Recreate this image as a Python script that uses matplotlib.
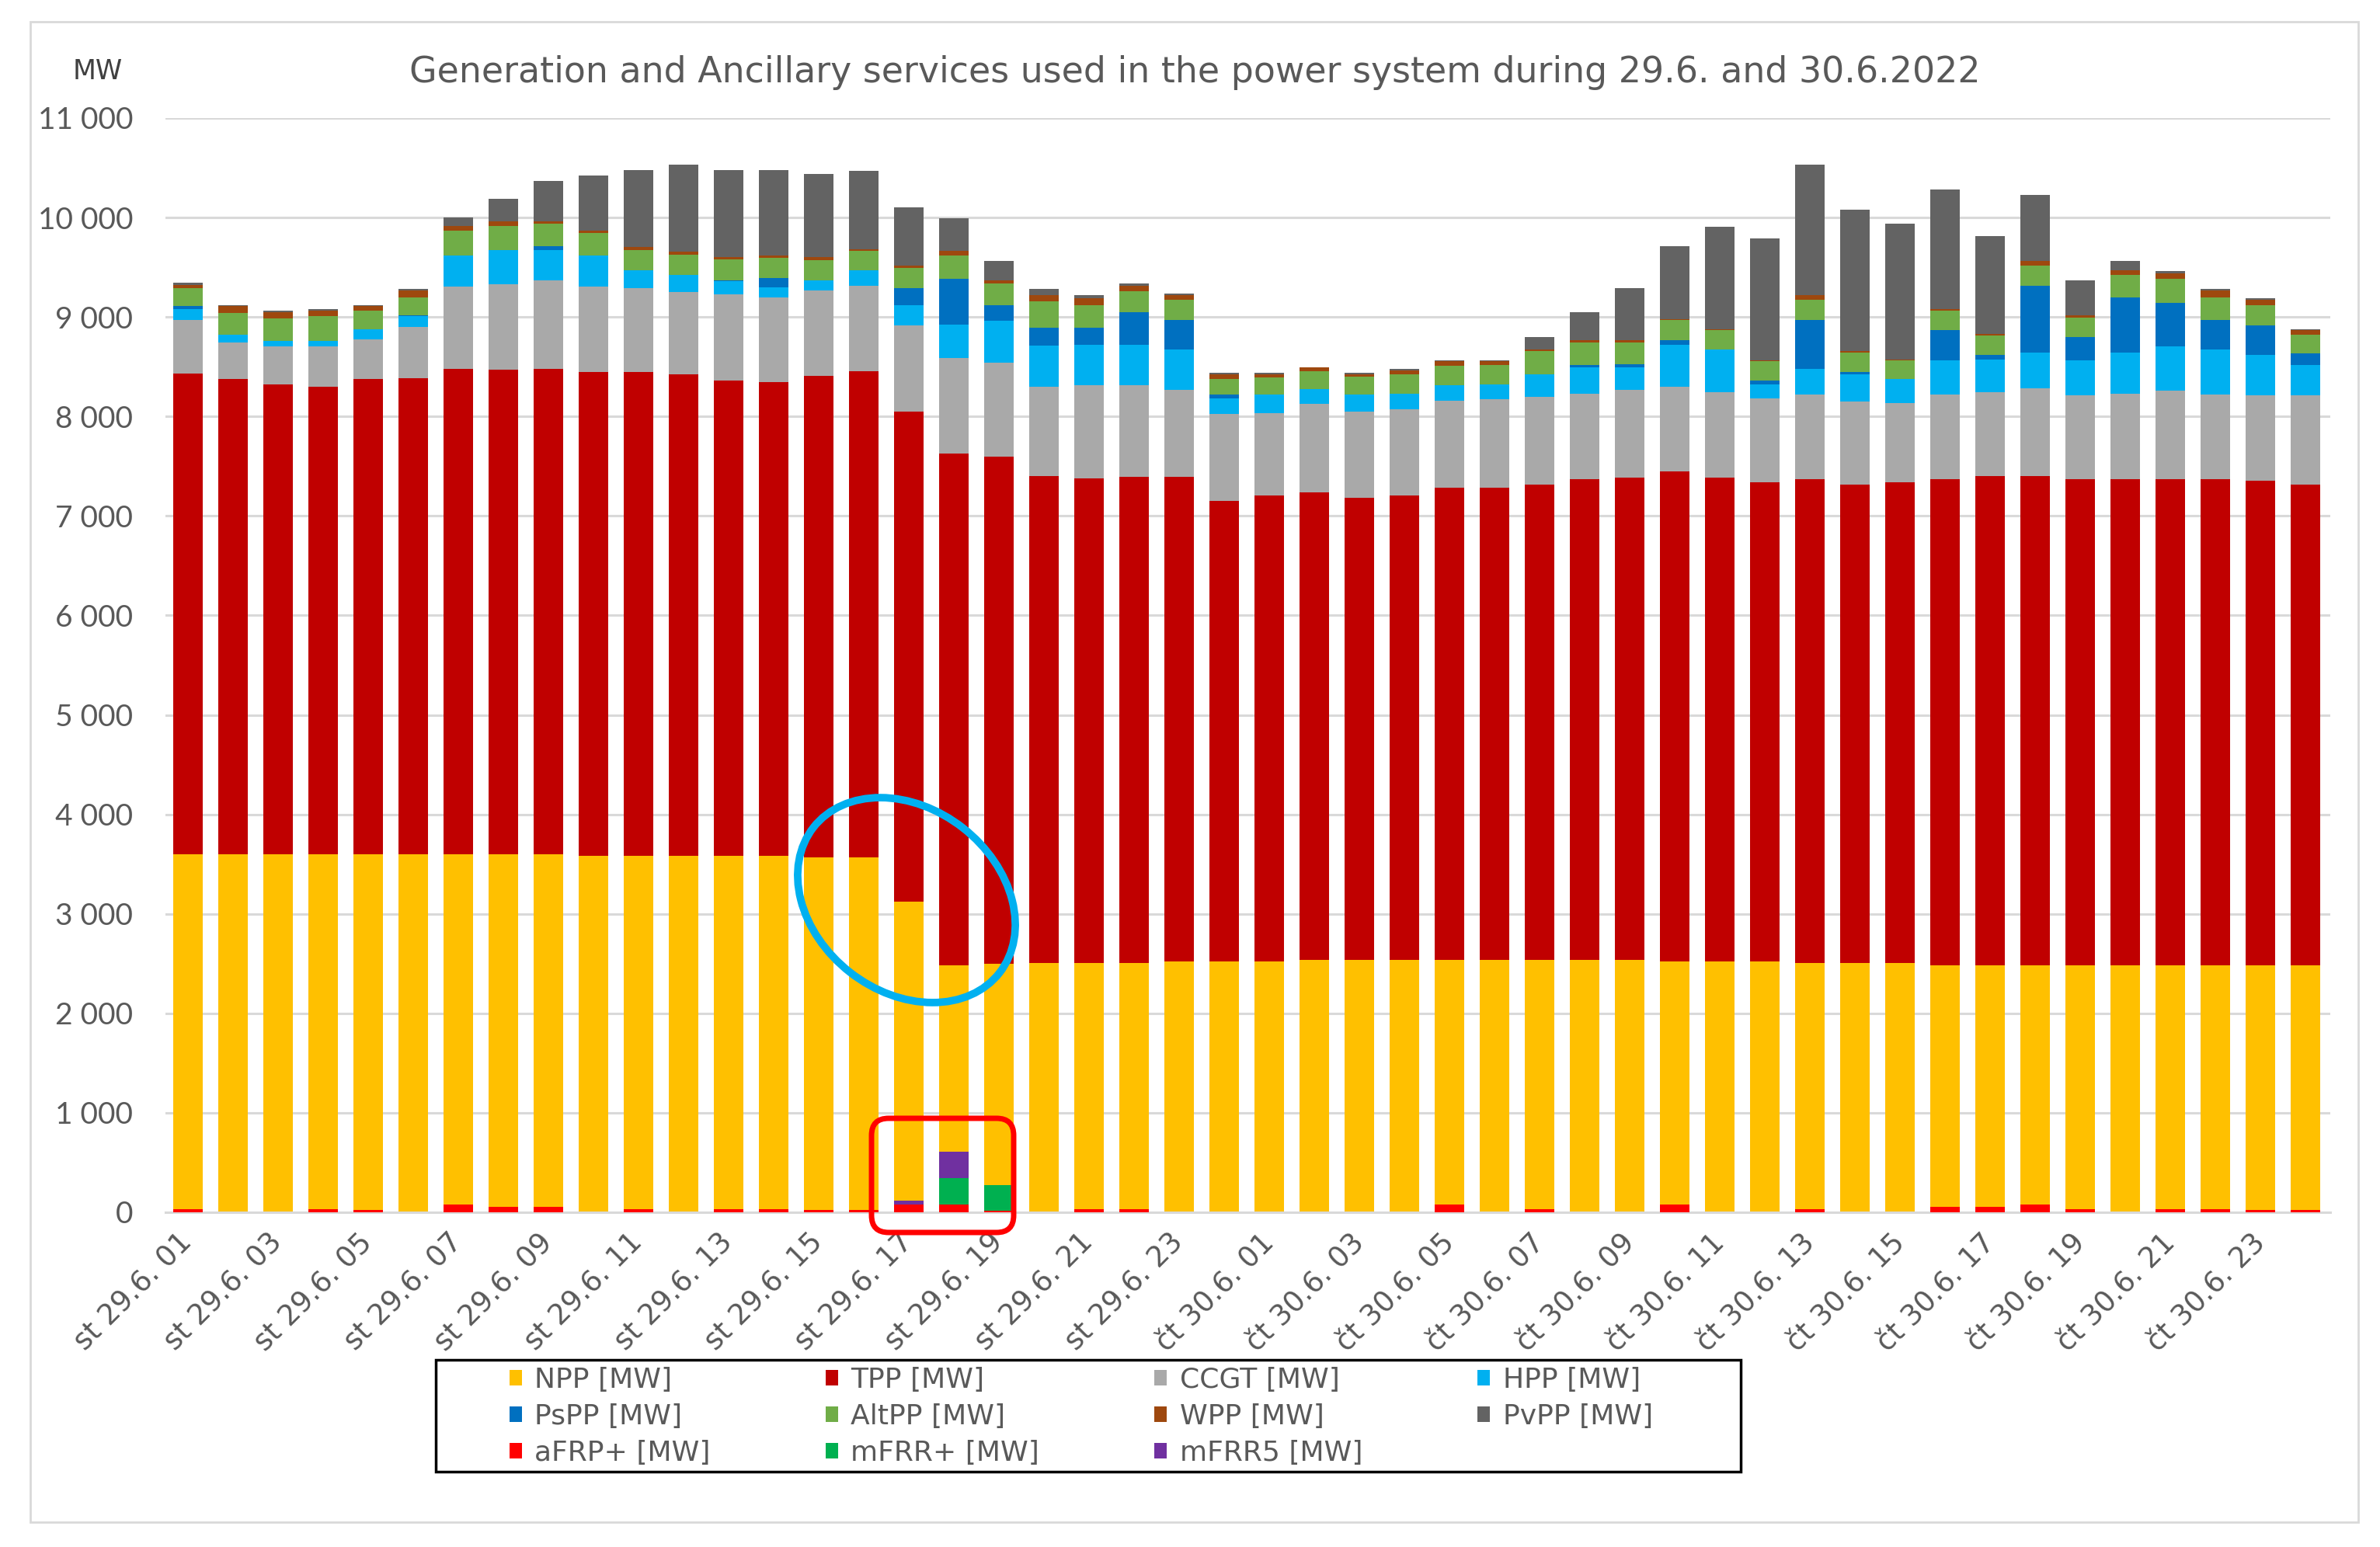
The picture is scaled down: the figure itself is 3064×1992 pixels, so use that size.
import matplotlib
matplotlib.use("Agg")
from matplotlib import pyplot as plt
from matplotlib.patches import Ellipse, FancyBboxPatch, Rectangle
import numpy as np

plt.rcParams['font.family'] = ['Lato', 'DejaVu Sans']
wide = ['DejaVu Sans']

hours = ["01", "02", "03", "04", "05", "06", "07", "08", "09", "10", "11", "12",
         "13", "14", "15", "16", "17", "18", "19", "20", "21", "22", "23", "24"]
categories = ["st 29.6. " + h for h in hours] + ["čt 30.6. " + h for h in hours]

# generation [MW], one value per hour
npp = [3600, 3600, 3600, 3600, 3600, 3600, 3600, 3600, 3600, 3585, 3585, 3580,
       3580, 3580, 3565, 3565, 3120, 2480, 2500, 2505, 2505, 2505, 2520, 2520,
       2520, 2540, 2540, 2540, 2540, 2540, 2540, 2540, 2540, 2520, 2520, 2520,
       2505, 2505, 2505, 2485, 2480, 2480, 2480, 2480, 2480, 2480, 2480, 2480]
tpp = [4830, 4778, 4725, 4701, 4778, 4788, 4876, 4872, 4876, 4863, 4863, 4843,
       4780, 4763, 4845, 4892, 4926, 5147, 5097, 4897, 4876, 4891, 4876, 4633,
       4687, 4697, 4643, 4667, 4742, 4742, 4772, 4832, 4847, 4927, 4867, 4822,
       4867, 4807, 4837, 4887, 4922, 4922, 4892, 4892, 4892, 4892, 4877, 4838]
ccgt = [542, 367, 378, 402, 395, 514, 828, 860, 891, 856, 839, 829,
        864, 856, 857, 858, 870, 959, 944, 899, 935, 920, 875, 872,
        823, 890, 862, 869, 875, 890, 884, 854, 878, 854, 854, 839,
        848, 839, 794, 848, 839, 884, 839, 854, 884, 845, 854, 893]
hpp = [105, 77, 59, 59, 101, 105, 315, 339, 304, 315, 185, 168,
       133, 98, 99, 156, 204, 336, 420, 414, 405, 405, 399, 156,
       190, 150, 175, 150, 159, 150, 231, 270, 231, 420, 429, 141,
       255, 276, 240, 345, 330, 360, 354, 420, 450, 453, 405, 306]
pspp = [35, 0, 0, 0, 0, 10, 0, 0, 39, 0, 0, 0,
        10, 95, 0, 0, 171, 459, 156, 180, 174, 330, 297, 39,
        0, 0, 0, 0, 0, 0, 0, 24, 30, 45, 0, 39,
        492, 18, 0, 300, 45, 669, 231, 549, 435, 297, 300, 114]
altpp = [175, 220, 221, 245, 192, 182, 245, 245, 231, 227, 199, 206,
         210, 199, 204, 195, 204, 240, 219, 261, 225, 210, 204, 156,
         171, 174, 177, 195, 195, 195, 234, 225, 219, 201, 201, 195,
         204, 195, 189, 201, 201, 201, 195, 225, 240, 228, 204, 189]
wpp = [35, 70, 69, 59, 46, 70, 52, 46, 17, 18, 35, 28,
       24, 28, 31, 14, 21, 45, 30, 66, 66, 54, 45, 45,
       30, 39, 28, 45, 45, 39, 15, 21, 21, 13, 9, 9,
       45, 21, 10, 15, 9, 45, 24, 51, 54, 72, 51, 45]
pvpp = [24, 7, 14, 11, 10, 14, 81, 223, 406, 559, 770, 881,
        875, 857, 839, 789, 584, 330, 195, 63, 30, 21, 21, 15,
        15, 6, 11, 15, 9, 9, 120, 279, 525, 731, 1026, 1221,
        1319, 1415, 1361, 1199, 990, 665, 351, 90, 30, 15, 15, 12]

# ancillary services [MW]
afrp = [30, 0, 0, 30, 25, 0, 80, 55, 55, 0, 30, 0,
        30, 30, 25, 25, 75, 75, 15, 0, 30, 30, 0, 0,
        0, 0, 0, 0, 80, 0, 30, 0, 0, 80, 0, 0,
        30, 0, 0, 55, 55, 80, 30, 0, 30, 30, 25, 25]
mfrr = [0] * 17 + [270, 255] + [0] * 29
mfrr5 = [0] * 16 + [45, 265] + [0] * 30

generation = [("NPP [MW]", npp, "#FFC000"), ("TPP [MW]", tpp, "#C00000"),
              ("CCGT [MW]", ccgt, "#A9A9A9"), ("HPP [MW]", hpp, "#00B0F0"),
              ("PsPP [MW]", pspp, "#0070C0"), ("AltPP [MW]", altpp, "#70AD47"),
              ("WPP [MW]", wpp, "#9E480E"), ("PvPP [MW]", pvpp, "#636363")]
ancillary = [("aFRP+ [MW]", afrp, "#FF0000"), ("mFRR+ [MW]", mfrr, "#00B050"),
             ("mFRR5 [MW]", mfrr5, "#7030A0")]

fig = plt.figure(figsize=(30.64, 19.92), dpi=100)
ax = fig.add_axes([0.0695, 0.2164, 0.9095, 0.7073])

x = np.arange(len(categories))
width = 0.65
handles = {}
bottom = np.zeros(len(x))
for name, vals, col in generation:
    handles[name] = ax.bar(x, vals, width, bottom=bottom, color=col, zorder=2)
    bottom += np.array(vals)
bottom = np.zeros(len(x))
for name, vals, col in ancillary:
    handles[name] = ax.bar(x, vals, width, bottom=bottom, color=col, zorder=3)
    bottom += np.array(vals)

ax.set_xlim(-0.5, len(x) - 0.45)
ax.set_ylim(0, 11000)
ax.set_yticks(range(0, 11001, 1000))
ax.set_yticklabels([f"{v:,}".replace(",", " ") for v in range(0, 11001, 1000)])
ax.yaxis.grid(True, color="#D9D9D9", lw=2.2)
ax.set_axisbelow(True)
for s in ["top", "right", "left"]:
    ax.spines[s].set_visible(False)
ax.spines["bottom"].set_color("#D9D9D9")
ax.spines["bottom"].set_linewidth(2.2)
ax.tick_params(axis="y", length=0, pad=30, labelsize=28, labelcolor="#595959")
ax.tick_params(axis="x", length=0, pad=24, labelsize=26.5, labelcolor="#595959")
ax.set_xticks(x[::2])
ax.set_xticklabels(categories[::2], rotation=45, ha="right", va="center",
                   rotation_mode="anchor", family=wide)

fig.text(0.502, 0.953, "Generation and Ancillary services used in the power system during 29.6. and 30.6.2022",
         ha="center", va="center", fontsize=33, color="#595959", family=wide)
fig.text(0.041, 0.954, "MW", ha="center", va="center", fontsize=25, color="#404040", family=wide)

order = ["NPP [MW]", "PsPP [MW]", "aFRP+ [MW]", "TPP [MW]", "AltPP [MW]", "mFRR+ [MW]",
         "CCGT [MW]", "WPP [MW]", "mFRR5 [MW]", "HPP [MW]", "PvPP [MW]"]
leg = fig.legend([handles[n] for n in order], order, ncol=4, loc="center",
                 bbox_to_anchor=(0.4542, 0.0845), frameon=False,
                 prop={"family": wide, "size": 26}, handlelength=0.45,
                 handleheight=0.45, handletextpad=0.45, labelspacing=0.36,
                 columnspacing=4.1, borderpad=0.1, labelcolor="#595959")
fig.add_artist(Rectangle((0.1832, 0.0487), 0.5482, 0.0723, transform=fig.transFigure,
                         fill=False, ec="black", lw=2.5))

# highlight marks
fig.add_artist(Ellipse((11.67, 8.33), 3.04, 2.36, angle=-38, transform=fig.dpi_scale_trans,
                       fill=False, ec="#00B0F0", lw=7, zorder=5))
fig.add_artist(FancyBboxPatch((11.22, 4.05), 1.83, 1.47, boxstyle="round,pad=0,rounding_size=0.22",
                              transform=fig.dpi_scale_trans, fill=False, ec="#FF0000",
                              lw=5, zorder=5))
fig.add_artist(Rectangle((0.0127, 0.016), 0.978, 0.970, transform=fig.transFigure,
                         fill=False, ec="#D9D9D9", lw=2))

fig.savefig("out.png", dpi=100)
